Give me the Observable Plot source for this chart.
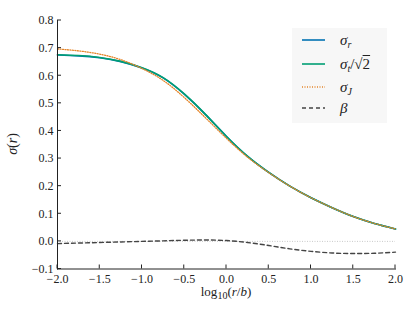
<!DOCTYPE html>
<html><head><meta charset="utf-8">
<script src="https://cdn.jsdelivr.net/npm/d3@7"></script>
<script src="https://cdn.jsdelivr.net/npm/@observablehq/plot@0.6"></script>
<style>
body{margin:0;background:#fff;}
#wrap{position:relative;width:415px;height:312px;font-family:"Liberation Serif",serif;color:#222;}
.lab{position:absolute;white-space:nowrap;line-height:1;}
#legend{position:absolute;left:292px;top:28px;width:95px;height:95px;background:#f7f7f7;}
.row{position:absolute;left:0;height:20px;display:flex;align-items:center;}
.row svg{margin-left:10px;margin-right:15px;}
.row span{font-size:15px;}
sub{font-size:10px;vertical-align:-3px;line-height:0;}
</style></head>
<body><div id="wrap"></div>
<script>
const logr   = [-2,-1.75,-1.5,-1.25,-1,-0.75,-0.5,-0.25,0,0.25,0.5,0.75,1,1.25,1.5,1.75,2];
const sigmaR = [0.675,0.672,0.665,0.651,0.628,0.592,0.533,0.460,0.380,0.308,0.250,0.200,0.158,0.122,0.090,0.065,0.045];
const sigmaT = [0.676,0.673,0.666,0.652,0.629,0.593,0.534,0.460,0.380,0.308,0.250,0.200,0.158,0.122,0.090,0.065,0.045];
const sigmaJ = [0.697,0.690,0.678,0.658,0.626,0.583,0.521,0.448,0.373,0.305,0.249,0.200,0.158,0.122,0.090,0.065,0.045];
const beta   = [-0.008,-0.006,-0.004,-0.002,0.000,0.002,0.004,0.005,0.003,-0.004,-0.015,-0.027,-0.036,-0.042,-0.044,-0.043,-0.039];
const xTicks = [-2,-1.5,-1,-0.5,0,0.5,1,1.5,2];
const yTicks = [-0.1,0,0.1,0.2,0.3,0.4,0.5,0.6,0.7,0.8];
const colors = {r:"#0072B2", t:"#009E73", J:"#E5852A", beta:"#444"};

const rows = logr.map((x,i)=>({x, r:sigmaR[i], t:sigmaT[i], J:sigmaJ[i], b:beta[i]}));
const fmt = d => d.toFixed(1).replace("-", "\u2212");

const chart = Plot.plot({
  width:415, height:312,
  marginLeft:57, marginRight:20, marginTop:20, marginBottom:43.5,
  x:{domain:[-2,2]},
  y:{domain:[-0.1,0.8]},
  style:{fontFamily:"'Liberation Serif', serif", fontSize:"12px", color:"#222"},
  marks:[
    Plot.ruleY([0], {stroke:"#bbb", strokeWidth:0.8, strokeDasharray:"1,1.5"}),
    Plot.line(rows, {x:"x", y:"r", stroke:colors.r, strokeWidth:1.6, curve:"natural"}),
    Plot.line(rows, {x:"x", y:"t", stroke:colors.t, strokeWidth:1.6, curve:"natural"}),
    Plot.line(rows, {x:"x", y:"J", stroke:colors.J, strokeWidth:1.3, strokeDasharray:"1,1.5", curve:"natural"}),
    Plot.line(rows, {x:"x", y:"b", stroke:colors.beta, strokeWidth:1.4, strokeDasharray:"4,3", curve:"natural"}),
    Plot.axisX({ticks:xTicks, tickFormat:fmt, tickSize:0, tickPadding:5, label:null}),
    Plot.axisY({ticks:yTicks, tickFormat:fmt, tickSize:0, tickPadding:4, label:null}),
    Plot.frame({anchor:"left", stroke:"#222"}),
    Plot.frame({anchor:"bottom", stroke:"#222"})
  ]
});
const wrap = document.getElementById("wrap");
wrap.appendChild(chart);

// inward tick marks drawn via library scales
const sx = chart.scale("x"), sy = chart.scale("y");
const svg = d3.select(chart);
const g = svg.append("g").attr("stroke","#222");
xTicks.forEach(v=>{ g.append("line").attr("x1",sx.apply(v)).attr("x2",sx.apply(v)).attr("y1",sy.apply(-0.1)).attr("y2",sy.apply(-0.1)-4); });
yTicks.forEach(v=>{ g.append("line").attr("y1",sy.apply(v)).attr("y2",sy.apply(v)).attr("x1",sx.apply(-2)).attr("x2",sx.apply(-2)+4); });

// axis labels
const xl = document.createElement("div");
xl.className="lab"; xl.style.left="226px"; xl.style.top="285px"; xl.style.transform="translateX(-50%)"; xl.style.fontSize="13px";
xl.innerHTML = 'log<sub>10</sub>(<i>r</i>/<i>b</i>)';
wrap.appendChild(xl);
const yl = document.createElement("div");
yl.className="lab"; yl.style.left="13px"; yl.style.top="144px"; yl.style.transform="translate(-50%,-50%) rotate(-90deg)"; yl.style.fontSize="14px";
yl.innerHTML = '<i>σ</i>(<i>r</i>)';
wrap.appendChild(yl);

// legend
const entries = [
  {html:'<i>σ</i><sub><i>r</i></sub>', c:colors.r, dash:null, w:1.6},
  {html:'<i>σ</i><sub><i>t</i></sub>/√<span style="text-decoration:overline">2</span>', c:colors.t, dash:null, w:1.6},
  {html:'<i>σ</i><sub><i>J</i></sub>', c:colors.J, dash:"1,1.5", w:1.3},
  {html:'<i>β</i>', c:colors.beta, dash:"4,3", w:1.4}
];
const leg = document.createElement("div"); leg.id="legend";
const tops = [2,26,49,70];
entries.forEach((e,i)=>{
  const r = document.createElement("div"); r.className="row"; r.style.top=tops[i]+"px";
  r.innerHTML = `<svg width="23" height="4"><line x1="0" x2="23" y1="2" y2="2" stroke="${e.c}" stroke-width="${e.w}" ${e.dash?`stroke-dasharray="${e.dash}"`:""}/></svg><span>${e.html}</span>`;
  leg.appendChild(r);
});
wrap.appendChild(leg);
</script></body></html>
